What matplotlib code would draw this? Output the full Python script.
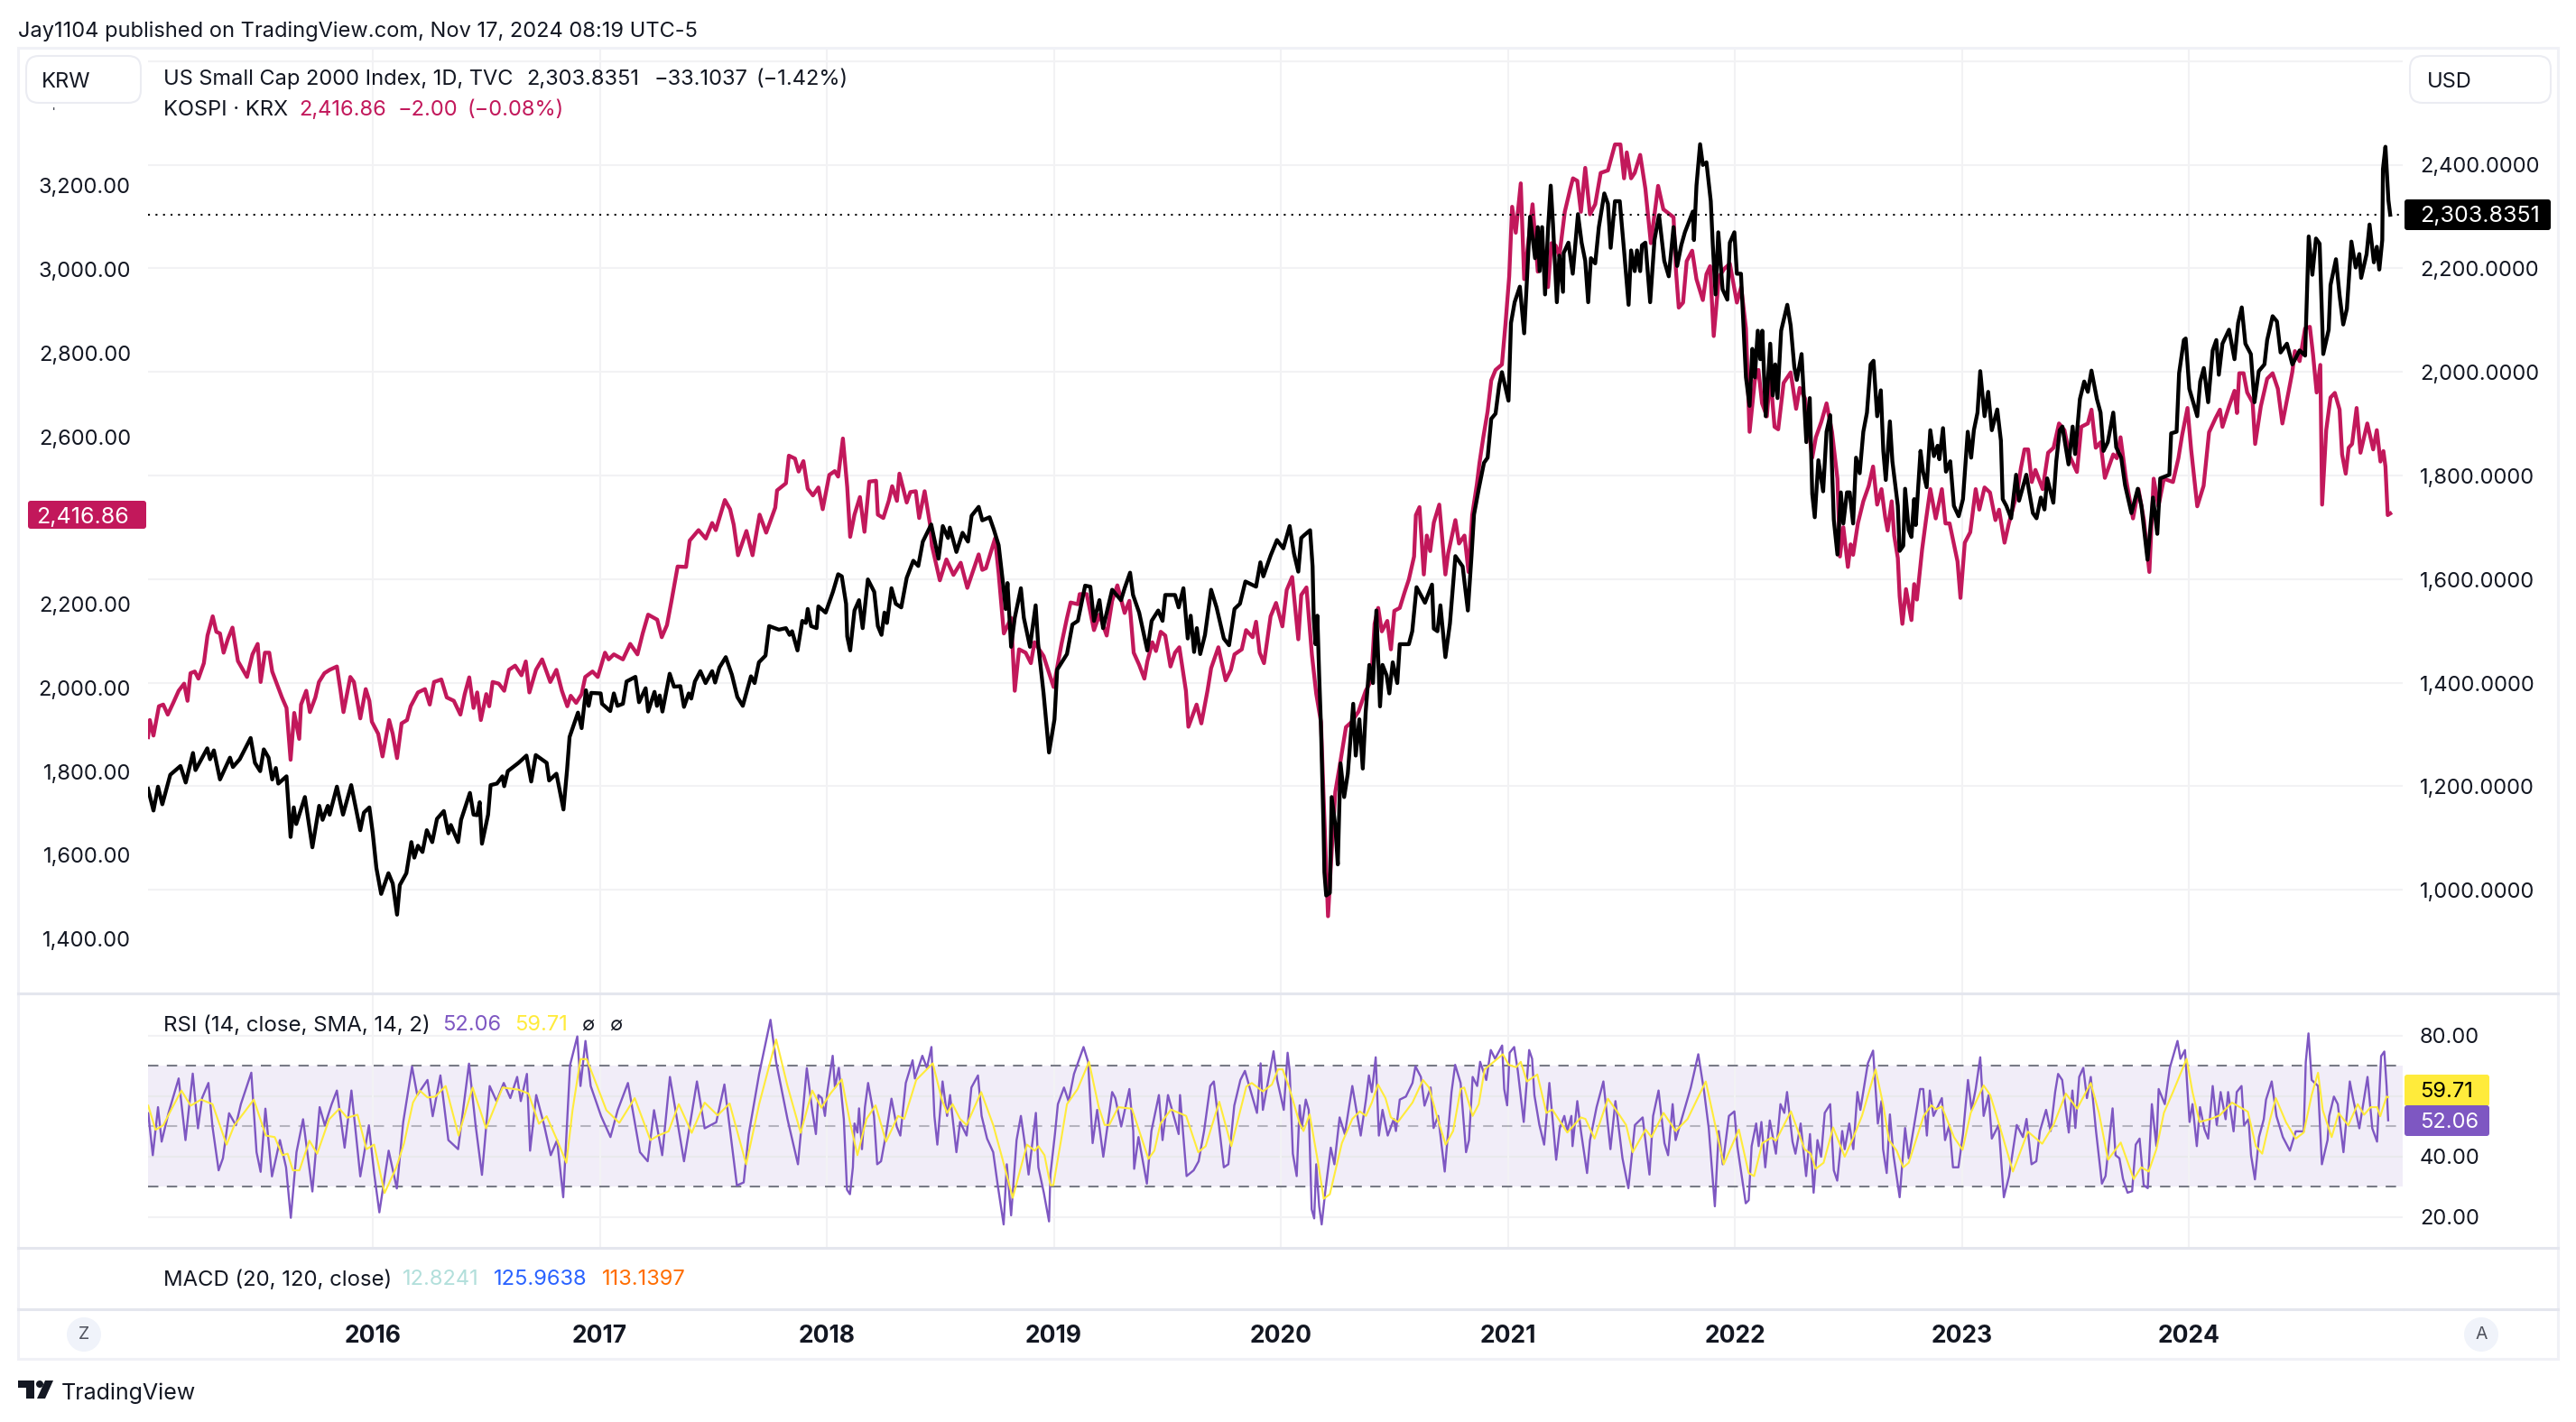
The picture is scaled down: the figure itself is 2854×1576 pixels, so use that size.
import numpy as np
import matplotlib
matplotlib.use('Agg')
import matplotlib.pyplot as plt
from matplotlib.patches import Rectangle, FancyBboxPatch, Circle, Polygon

# all times are years since 2015
rut_t = [
    .010, .034, .054, .073, .108, .153, .176, .208, .219, .271, .283, .300, .327, .371, .384, .414, .462, .481, .504, .520,
    .541, .557, .573, .584, .620, .638, .652, .663, .701, .734, .764, .779, .802, .810, .842, .869, .905, .945, .961, .985,
    1.000, 1.016, 1.037, 1.069, 1.088, 1.107, 1.119, 1.148, 1.170, 1.183, 1.199, 1.219, 1.238, 1.262, 1.283, 1.313, 1.333, 1.344, 1.376, 1.389,
    1.428, 1.444, 1.460, 1.471, 1.481, 1.508, 1.519, 1.547, 1.571, 1.579, 1.595, 1.642, 1.677, 1.698, 1.718, 1.766, 1.777, 1.809, 1.840, 1.856,
    1.867, 1.904, 1.920, 1.939, 1.951, 1.962, 2.004, 2.010, 2.046, 2.062, 2.078, 2.102, 2.118, 2.157, 2.173, 2.202, 2.213, 2.241, 2.252, 2.264,
    2.276, 2.308, 2.327, 2.355, 2.371, 2.392, 2.403, 2.419, 2.443, 2.466, 2.495, 2.508, 2.527, 2.555, 2.582, 2.606, 2.630, 2.666, 2.682, 2.701,
    2.730, 2.746, 2.789, 2.820, 2.836, 2.847, 2.871, 2.892, 2.908, 2.916, 2.931, 2.955, 2.963, 2.995, 3.027, 3.050, 3.066, 3.085, 3.090, 3.103,
    3.122, 3.142, 3.158, 3.181, 3.209, 3.225, 3.241, 3.254, 3.265, 3.285, 3.304, 3.328, 3.352, 3.381, 3.403, 3.423, 3.460, 3.492, 3.511, 3.534,
    3.542, 3.571, 3.598, 3.622, 3.638, 3.669, 3.685, 3.717, 3.736, 3.757, 3.777, 3.788, 3.796, 3.812, 3.828, 3.855, 3.868, 3.895, 3.920, 3.931,
    3.955, 3.979, 4.003, 4.015, 4.058, 4.082, 4.106, 4.138, 4.161, 4.177, 4.201, 4.217, 4.257, 4.296, 4.312, 4.336, 4.349, 4.376, 4.412, 4.431,
    4.460, 4.479, 4.491, 4.534, 4.550, 4.571, 4.590, 4.603, 4.618, 4.630, 4.645, 4.666, 4.693, 4.717, 4.749, 4.772, 4.796, 4.820, 4.844, 4.891,
    4.910, 4.923, 4.955, 4.983, 5.011, 5.039, 5.058, 5.077, 5.090, 5.102, 5.129, 5.140, 5.145, 5.153, 5.161, 5.169, 5.177, 5.188, 5.192, 5.200,
    5.216, 5.224, 5.240, 5.251, 5.263, 5.279, 5.295, 5.319, 5.330, 5.346, 5.361, 5.374, 5.390, 5.406, 5.421, 5.437, 5.448, 5.466, 5.478, 5.493,
    5.513, 5.524, 5.564, 5.579, 5.598, 5.635, 5.666, 5.674, 5.690, 5.703, 5.725, 5.745, 5.769, 5.801, 5.824, 5.840, 5.851, 5.872, 5.895, 5.911,
    5.927, 5.946, 5.962, 5.974, 6.003, 6.014, 6.030, 6.053, 6.072, 6.085, 6.098, 6.120, 6.132, 6.140, 6.151, 6.164, 6.177, 6.189, 6.199, 6.216,
    6.227, 6.243, 6.246, 6.267, 6.286, 6.309, 6.325, 6.341, 6.354, 6.366, 6.385, 6.401, 6.425, 6.441, 6.453, 6.472, 6.493, 6.512, 6.532, 6.543,
    6.559, 6.569, 6.583, 6.591, 6.606, 6.627, 6.646, 6.666, 6.689, 6.709, 6.730, 6.746, 6.764, 6.780, 6.815, 6.820, 6.831, 6.847, 6.859, 6.875,
    6.894, 6.903, 6.915, 6.927, 6.946, 6.967, 6.978, 6.998, 7.009, 7.027, 7.049, 7.065, 7.077, 7.088, 7.101, 7.112, 7.121, 7.136, 7.156, 7.167,
    7.178, 7.188, 7.204, 7.231, 7.246, 7.262, 7.273, 7.294, 7.315, 7.330, 7.341, 7.352, 7.368, 7.389, 7.404, 7.420, 7.436, 7.452, 7.467, 7.478,
    7.494, 7.506, 7.521, 7.534, 7.550, 7.566, 7.582, 7.598, 7.611, 7.627, 7.643, 7.654, 7.665, 7.683, 7.694, 7.718, 7.726, 7.742, 7.750, 7.766,
    7.778, 7.790, 7.797, 7.818, 7.829, 7.845, 7.861, 7.877, 7.893, 7.901, 7.917, 7.930, 7.949, 7.965, 7.986, 8.005, 8.026, 8.041, 8.053, 8.069,
    8.081, 8.100, 8.116, 8.132, 8.156, 8.172, 8.180, 8.196, 8.217, 8.239, 8.252, 8.284, 8.313, 8.329, 8.348, 8.364, 8.376, 8.403, 8.416, 8.431,
    8.443, 8.470, 8.488, 8.499, 8.520, 8.539, 8.555, 8.571, 8.595, 8.611, 8.624, 8.643, 8.667, 8.680, 8.702, 8.719, 8.747, 8.775, 8.791, 8.818,
    8.842, 8.861, 8.874, 8.914, 8.922, 8.946, 8.957, 8.978, 8.986, 9.002, 9.037, 9.050, 9.066, 9.085, 9.105, 9.121, 9.132, 9.148, 9.177, 9.201,
    9.217, 9.233, 9.249, 9.273, 9.289, 9.308, 9.333, 9.345, 9.369, 9.388, 9.404, 9.432, 9.456, 9.488, 9.512, 9.528, 9.544, 9.560, 9.576, 9.592,
    9.616, 9.624, 9.648, 9.664, 9.680, 9.696, 9.707, 9.716, 9.735, 9.751, 9.759, 9.783, 9.796, 9.815, 9.828, 9.839, 9.852, 9.855, 9.866, 9.879,
    9.887,
]
rut_v = [
    1196, 1154, 1200, 1166, 1223, 1240, 1208, 1265, 1232, 1274, 1253, 1270, 1214, 1256, 1238, 1253, 1294, 1246, 1230, 1272,
    1256, 1214, 1236, 1206, 1220, 1103, 1160, 1128, 1180, 1083, 1163, 1136, 1163, 1146, 1200, 1146, 1203, 1116, 1150, 1160,
    1110, 1043, 993, 1033, 1013, 953, 1010, 1033, 1093, 1063, 1086, 1074, 1116, 1093, 1138, 1153, 1110, 1126, 1093, 1136,
    1188, 1146, 1145, 1170, 1090, 1146, 1203, 1206, 1220, 1201, 1230, 1246, 1260, 1210, 1261, 1246, 1212, 1225, 1156, 1233,
    1296, 1343, 1313, 1386, 1356, 1381, 1380, 1360, 1346, 1380, 1356, 1360, 1403, 1412, 1363, 1390, 1345, 1383, 1356, 1376,
    1345, 1418, 1393, 1394, 1354, 1380, 1370, 1403, 1423, 1400, 1423, 1401, 1430, 1450, 1416, 1373, 1356, 1413, 1400, 1440,
    1453, 1510, 1503, 1506, 1493, 1500, 1463, 1520, 1516, 1543, 1510, 1506, 1548, 1536, 1576, 1610, 1606, 1553, 1490, 1463,
    1540, 1560, 1506, 1600, 1576, 1510, 1493, 1536, 1516, 1583, 1553, 1546, 1603, 1636, 1626, 1673, 1706, 1640, 1703, 1680,
    1700, 1653, 1690, 1673, 1723, 1740, 1714, 1720, 1696, 1666, 1590, 1543, 1593, 1470, 1526, 1583, 1526, 1470, 1550, 1476,
    1380, 1266, 1330, 1426, 1456, 1513, 1520, 1588, 1586, 1520, 1560, 1506, 1580, 1560, 1583, 1613, 1570, 1536, 1463, 1520,
    1540, 1520, 1570, 1570, 1546, 1583, 1486, 1530, 1460, 1506, 1456, 1493, 1580, 1546, 1486, 1473, 1543, 1553, 1596, 1586,
    1633, 1606, 1646, 1676, 1660, 1703, 1650, 1615, 1680, 1685, 1695, 1625, 1525, 1475, 1530, 1415, 1315, 1125, 1035, 990,
    995, 1180, 1125, 1050, 1245, 1180, 1225, 1360, 1260, 1330, 1235, 1345, 1435, 1400, 1540, 1355, 1435, 1415, 1380, 1440,
    1400, 1475, 1475, 1500, 1585, 1555, 1590, 1505, 1500, 1550, 1450, 1515, 1645, 1625, 1540, 1645, 1725, 1775, 1825, 1835,
    1910, 1920, 1975, 2000, 1945, 2095, 2135, 2165, 2075, 2185, 2300, 2220, 2280, 2195, 2280, 2150, 2275, 2360, 2285, 2135,
    2225, 2155, 2230, 2250, 2190, 2305, 2250, 2215, 2135, 2220, 2210, 2280, 2345, 2325, 2240, 2330, 2330, 2235, 2130, 2235,
    2195, 2235, 2195, 2245, 2250, 2135, 2255, 2303, 2215, 2185, 2280, 2205, 2245, 2270, 2310, 2255, 2360, 2440, 2400, 2405,
    2330, 2245, 2150, 2270, 2160, 2140, 2250, 2270, 2190, 2190, 1990, 1935, 2045, 1990, 2080, 2025, 2080, 1915, 2055, 1955,
    2015, 1950, 2080, 2130, 2090, 2010, 1985, 2035, 1865, 1950, 1765, 1720, 1830, 1770, 1885, 1917, 1715, 1648, 1768, 1708,
    1768, 1768, 1708, 1835, 1805, 1885, 1922, 2015, 2022, 1915, 1965, 1848, 1792, 1905, 1828, 1742, 1655, 1665, 1775, 1695,
    1682, 1755, 1705, 1848, 1808, 1778, 1888, 1838, 1858, 1832, 1892, 1808, 1828, 1742, 1722, 1755, 1885, 1835, 1888, 1922,
    2002, 1915, 1962, 1888, 1928, 1868, 1755, 1742, 1718, 1802, 1752, 1802, 1728, 1718, 1758, 1735, 1795, 1748, 1828, 1888,
    1895, 1822, 1895, 1842, 1948, 1982, 1962, 2003, 1948, 1922, 1848, 1865, 1922, 1855, 1835, 1782, 1728, 1775, 1742, 1638,
    1758, 1688, 1795, 1802, 1882, 1885, 1998, 2062, 2065, 1968, 1915, 1982, 2008, 1942, 2042, 2062, 1995, 2055, 2082, 2025,
    2095, 2125, 2055, 2035, 1942, 2002, 2015, 2062, 2108, 2098, 2038, 2055, 2015, 2042, 2032, 2262, 2188, 2258, 2248, 2035,
    2082, 2168, 2218, 2148, 2092, 2122, 2195, 2252, 2202, 2228, 2182, 2228, 2285, 2212, 2242, 2198, 2255, 2392, 2435, 2332,
    2303.8351,
]

kospi_t = [
    .010, .018, .034, .058, .077, .097, .121, .145, .169, .184, .197, .216, .232, .256, .272, .295, .311, .327, .343, .362,
    .382, .406, .446, .470, .493, .506, .525, .544, .557, .577, .600, .620, .638, .654, .676, .684, .707, .723, .747, .763,
    .787, .810, .842, .858, .871, .901, .917, .945, .969, .985, .996, 1.024, 1.043, 1.072, 1.088, 1.107, 1.127, 1.151, 1.167, 1.199,
    1.230, 1.251, 1.270, 1.302, 1.326, 1.357, 1.386, 1.405, 1.425, 1.444, 1.460, 1.476, 1.500, 1.513, 1.528, 1.555, 1.579, 1.600, 1.627, 1.655,
    1.674, 1.690, 1.719, 1.746, 1.782, 1.809, 1.833, 1.857, 1.872, 1.896, 1.920, 1.936, 1.968, 1.991, 2.023, 2.039, 2.062, 2.102, 2.134, 2.166,
    2.189, 2.213, 2.253, 2.273, 2.296, 2.316, 2.343, 2.380, 2.396, 2.435, 2.467, 2.495, 2.511, 2.551, 2.574, 2.590, 2.609, 2.646, 2.673, 2.704,
    2.733, 2.773, 2.781, 2.820, 2.833, 2.860, 2.876, 2.897, 2.916, 2.939, 2.963, 2.982, 3.011, 3.035, 3.050, 3.071, 3.090, 3.103, 3.122, 3.146,
    3.166, 3.187, 3.217, 3.225, 3.249, 3.273, 3.288, 3.309, 3.320, 3.352, 3.368, 3.392, 3.407, 3.431, 3.455, 3.463, 3.498, 3.527, 3.558, 3.590,
    3.619, 3.669, 3.685, 3.701, 3.741, 3.757, 3.780, 3.812, 3.828, 3.847, 3.876, 3.899, 3.915, 3.955, 3.999, 4.034, 4.058, 4.074, 4.106, 4.114,
    4.145, 4.177, 4.201, 4.233, 4.257, 4.280, 4.312, 4.333, 4.352, 4.376, 4.399, 4.412, 4.434, 4.450, 4.471, 4.491, 4.514, 4.534, 4.553, 4.582,
    4.593, 4.629, 4.650, 4.677, 4.693, 4.725, 4.757, 4.780, 4.796, 4.828, 4.847, 4.876, 4.891, 4.907, 4.926, 4.955, 4.979, 5.007, 5.026, 5.050,
    5.077, 5.090, 5.113, 5.137, 5.156, 5.177, 5.188, 5.208, 5.224, 5.240, 5.263, 5.287, 5.311, 5.342, 5.374, 5.398, 5.413, 5.429, 5.445, 5.469,
    5.485, 5.500, 5.524, 5.545, 5.564, 5.587, 5.595, 5.611, 5.630, 5.643, 5.658, 5.674, 5.698, 5.725, 5.737, 5.769, 5.785, 5.809, 5.827, 5.843,
    5.864, 5.875, 5.892, 5.911, 5.927, 5.946, 5.974, 5.990, 6.006, 6.019, 6.035, 6.057, 6.072, 6.109, 6.132, 6.156, 6.177, 6.192, 6.211, 6.227,
    6.251, 6.275, 6.287, 6.306, 6.322, 6.341, 6.362, 6.385, 6.409, 6.441, 6.472, 6.496, 6.512, 6.524, 6.543, 6.559, 6.583, 6.606, 6.630, 6.662,
    6.685, 6.730, 6.741, 6.753, 6.772, 6.788, 6.812, 6.831, 6.859, 6.875, 6.891, 6.907, 6.930, 6.954, 6.978, 7.009, 7.028, 7.049, 7.065, 7.088,
    7.104, 7.120, 7.141, 7.156, 7.175, 7.191, 7.215, 7.246, 7.270, 7.286, 7.309, 7.341, 7.357, 7.381, 7.404, 7.428, 7.452, 7.463, 7.478, 7.498,
    7.510, 7.521, 7.542, 7.566, 7.590, 7.609, 7.627, 7.646, 7.662, 7.673, 7.691, 7.702, 7.718, 7.726, 7.738, 7.754, 7.778, 7.790, 7.802, 7.825,
    7.842, 7.861, 7.885, 7.912, 7.928, 7.946, 7.965, 7.981, 7.994, 8.013, 8.037, 8.061, 8.077, 8.100, 8.124, 8.148, 8.164, 8.188, 8.207, 8.244,
    8.260, 8.276, 8.292, 8.308, 8.324, 8.356, 8.380, 8.404, 8.428, 8.452, 8.475, 8.507, 8.526, 8.555, 8.571, 8.590, 8.611, 8.630, 8.667, 8.683,
    8.699, 8.723, 8.754, 8.778, 8.802, 8.826, 8.845, 8.866, 8.890, 8.930, 8.954, 8.970, 8.994, 9.010, 9.037, 9.065, 9.089, 9.117, 9.137, 9.148,
    9.177, 9.201, 9.212, 9.222, 9.241, 9.257, 9.281, 9.292, 9.317, 9.345, 9.369, 9.392, 9.412, 9.440, 9.456, 9.467, 9.488, 9.512, 9.533, 9.547,
    9.563, 9.579, 9.587, 9.605, 9.624, 9.643, 9.664, 9.675, 9.691, 9.704, 9.719, 9.739, 9.756, 9.786, 9.812, 9.828, 9.844, 9.857, 9.866, 9.876,
    9.887,
]
kospi_v = [
    1882, 1923, 1886, 1956, 1960, 1936, 1964, 1993, 2010, 1969, 2035, 2039, 2022, 2059, 2125, 2171, 2134, 2130, 2084, 2117,
    2144, 2064, 2026, 2080, 2105, 2014, 2084, 2084, 2039, 2010, 1977, 1952, 1828, 1940, 1878, 1960, 1993, 1942, 1977, 2014,
    2035, 2043, 2051, 1993, 1942, 2026, 2014, 1927, 1997, 1969, 1919, 1890, 1836, 1923, 1890, 1832, 1915, 1923, 1956, 1989,
    1997, 1960, 2014, 2020, 1977, 1969, 1936, 1985, 2025, 1952, 1989, 1923, 1985, 1956, 2014, 2010, 1993, 2043, 2053, 2030,
    2063, 1989, 2043, 2068, 2014, 2043, 1993, 1956, 1981, 1964, 1985, 2026, 2039, 2026, 2084, 2068, 2080, 2068, 2105, 2080,
    2130, 2175, 2163, 2121, 2150, 2208, 2290, 2289, 2352, 2377, 2357, 2394, 2377, 2449, 2427, 2390, 2317, 2375, 2317, 2414,
    2371, 2431, 2472, 2489, 2555, 2548, 2517, 2542, 2476, 2460, 2479, 2427, 2509, 2518, 2505, 2596, 2480, 2361, 2414, 2456,
    2373, 2493, 2495, 2414, 2406, 2447, 2482, 2447, 2512, 2443, 2468, 2470, 2406, 2470, 2390, 2340, 2257, 2307, 2270, 2299,
    2239, 2319, 2282, 2286, 2357, 2274, 2130, 2167, 1993, 2092, 2084, 2059, 2109, 2076, 2002, 2105, 2167, 2204, 2200, 2224,
    2224, 2138, 2175, 2125, 2208, 2245, 2179, 2208, 2084, 2055, 2022, 2063, 2109, 2088, 2134, 2125, 2051, 2084, 2097, 1993,
    1907, 1960, 1915, 1993, 2047, 2097, 2018, 2043, 2080, 2092, 2138, 2121, 2158, 2084, 2059, 2171, 2203, 2147, 2234, 2265,
    2116, 2222, 2240, 2079, 1986, 1918, 1745, 1454, 1609, 1751, 1825, 1906, 1918, 1943, 1993, 2017, 2153, 2191, 2135, 2160,
    2092, 2184, 2191, 2228, 2259, 2314, 2413, 2432, 2271, 2364, 2327, 2395, 2438, 2271, 2321, 2401, 2345, 2364, 2277, 2413,
    2488, 2537, 2599, 2661, 2735, 2760, 2773, 2872, 2983, 3150, 3088, 3206, 2977, 3156, 2995, 3032, 2958, 3063, 3057, 3032,
    3138, 3193, 3218, 3212, 3138, 3243, 3132, 3156, 3231, 3237, 3299, 3299, 3218, 3280, 3218, 3231, 3274, 3193, 3063, 3200,
    3144, 3125, 2995, 2909, 2921, 3020, 3045, 2977, 2927, 2989, 3008, 2841, 2983, 3002, 3014, 2921, 2958, 2859, 2612, 2735,
    2760, 2680, 2649, 2748, 2624, 2618, 2729, 2754, 2667, 2717, 2692, 2550, 2599, 2636, 2680, 2612, 2500, 2314, 2384, 2289,
    2343, 2318, 2393, 2446, 2483, 2529, 2438, 2475, 2409, 2376, 2446, 2364, 2310, 2219, 2153, 2236, 2162, 2248, 2211, 2331,
    2401, 2475, 2405, 2475, 2393, 2393, 2343, 2302, 2215, 2347, 2372, 2475, 2426, 2479, 2467, 2401, 2426, 2347, 2393, 2467,
    2525, 2570, 2570, 2492, 2521, 2475, 2562, 2574, 2632, 2616, 2554, 2516, 2624, 2632, 2665, 2574, 2587, 2502, 2558, 2549,
    2599, 2500, 2405, 2475, 2401, 2277, 2500, 2434, 2500, 2492, 2549, 2603, 2669, 2570, 2434, 2483, 2611, 2644, 2665, 2624,
    2673, 2710, 2657, 2752, 2752, 2706, 2682, 2583, 2673, 2739, 2752, 2715, 2632, 2710, 2756, 2805, 2781, 2859, 2863, 2797,
    2706, 2772, 2438, 2616, 2694, 2705, 2665, 2558, 2512, 2574, 2583, 2669, 2562, 2632, 2570, 2616, 2541, 2566, 2529, 2413,
    2416.86,
]

rsi_t = [
    .011, .031, .054, .070, .100, .145, .175, .207, .230, .248, .276, .294, .321, .340, .367, .397, .419, .465, .488, .506,
    .527, .556, .591, .618, .639, .664, .693, .734, .766, .789, .819, .842, .876, .906, .945, .983, 1.006, 1.029, 1.070, 1.106,
    1.134, 1.173, 1.196, 1.241, 1.264, 1.298, 1.333, 1.376, 1.396, 1.424, 1.453, 1.481, 1.515, 1.545, 1.577, 1.606, 1.636, 1.652, 1.679, 1.693,
    1.720, 1.755, 1.784, 1.812, 1.839, 1.869, 1.901, 1.915, 1.937, 1.960, 2.006, 2.047, 2.079, 2.124, 2.177, 2.211, 2.239, 2.275, 2.309, 2.371,
    2.428, 2.462, 2.513, 2.549, 2.604, 2.634, 2.656, 2.702, 2.752, 2.777, 2.827, 2.873, 2.912, 2.936, 2.952, 2.963, 2.978, 2.992, 3.002, 3.026,
    3.036, 3.053, 3.075, 3.089, 3.102, 3.115, 3.122, 3.135, 3.142, 3.155, 3.168, 3.182, 3.208, 3.222, 3.239, 3.261, 3.285, 3.308, 3.324, 3.348,
    3.378, 3.388, 3.421, 3.441, 3.461, 3.474, 3.487, 3.510, 3.530, 3.543, 3.571, 3.587, 3.616, 3.637, 3.666, 3.682, 3.706, 3.733, 3.753, 3.779,
    3.793, 3.812, 3.836, 3.855, 3.872, 3.889, 3.921, 3.932, 3.956, 3.979, 3.985, 4.005, 4.018, 4.045, 4.065, 4.089, 4.131, 4.151, 4.171, 4.191,
    4.218, 4.257, 4.271, 4.297, 4.333, 4.350, 4.354, 4.373, 4.410, 4.430, 4.463, 4.479, 4.503, 4.550, 4.556, 4.585, 4.616, 4.638, 4.662, 4.689,
    4.705, 4.749, 4.769, 4.795, 4.822, 4.842, 4.859, 4.895, 4.911, 4.921, 4.968, 4.984, 5.013, 5.030, 5.039, 5.053, 5.070, 5.083, 5.092, 5.110,
    5.123, 5.136, 5.147, 5.156, 5.169, 5.180, 5.196, 5.220, 5.236, 5.259, 5.282, 5.315, 5.352, 5.375, 5.388, 5.401, 5.418, 5.432, 5.448, 5.471,
    5.498, 5.507, 5.524, 5.551, 5.580, 5.593, 5.617, 5.633, 5.660, 5.673, 5.693, 5.722, 5.752, 5.768, 5.792, 5.816, 5.829, 5.845, 5.865, 5.878,
    5.905, 5.925, 5.944, 5.975, 5.984, 5.997, 6.008, 6.028, 6.044, 6.070, 6.094, 6.107, 6.117, 6.139, 6.160, 6.183, 6.213, 6.229, 6.249, 6.262,
    6.280, 6.285, 6.306, 6.322, 6.349, 6.362, 6.391, 6.421, 6.452, 6.474, 6.505, 6.531, 6.560, 6.594, 6.624, 6.640, 6.664, 6.690, 6.706, 6.726,
    6.739, 6.766, 6.806, 6.839, 6.865, 6.885, 6.902, 6.912, 6.929, 6.947, 6.974, 6.998, 7.011, 7.048, 7.061, 7.074, 7.094, 7.105, 7.117, 7.134,
    7.154, 7.181, 7.201, 7.218, 7.230, 7.254, 7.267, 7.290, 7.314, 7.331, 7.347, 7.364, 7.380, 7.396, 7.420, 7.436, 7.451, 7.473, 7.484, 7.504,
    7.522, 7.540, 7.553, 7.586, 7.609, 7.630, 7.646, 7.653, 7.669, 7.683, 7.699, 7.726, 7.750, 7.766, 7.790, 7.816, 7.830, 7.846, 7.859, 7.875,
    7.912, 7.926, 7.945, 7.961, 7.985, 8.005, 8.027, 8.043, 8.061, 8.081, 8.096, 8.118, 8.132, 8.162, 8.185, 8.208, 8.242, 8.269, 8.285, 8.307,
    8.328, 8.344, 8.371, 8.391, 8.411, 8.424, 8.442, 8.471, 8.487, 8.500, 8.517, 8.535, 8.551, 8.568, 8.591, 8.617, 8.633, 8.664, 8.677, 8.694,
    8.710, 8.730, 8.750, 8.766, 8.783, 8.801, 8.819, 8.837, 8.857, 8.867, 8.894, 8.916, 8.950, 8.963, 8.983, 9.003, 9.016, 9.035, 9.049, 9.069,
    9.085, 9.105, 9.123, 9.140, 9.162, 9.173, 9.197, 9.211, 9.232, 9.243, 9.263, 9.274, 9.291, 9.309, 9.330, 9.340, 9.365, 9.386, 9.414, 9.445,
    9.471, 9.506, 9.515, 9.527, 9.541, 9.569, 9.586, 9.611, 9.618, 9.639, 9.656, 9.681, 9.709, 9.723, 9.751, 9.787, 9.808, 9.829, 9.847, 9.861,
    9.871, 9.878,
]
rsi_v = [
    54.4, 40.5, 56.4, 45.0, 54.4, 65.9, 45.5, 67.5, 49.4, 59.4, 64.4, 49.9, 35.5, 39.5, 54.4, 50.4, 57.4, 67.8, 41.5, 35.0,
    55.9, 33.5, 45.5, 36.5, 19.8, 41.5, 52.4, 28.5, 56.4, 50.4, 57.4, 61.9, 43.0, 61.9, 33.5, 50.4, 34.5, 21.6, 42.0, 29.5,
    51.4, 69.8, 60.4, 65.4, 53.4, 66.9, 45.5, 42.5, 54.4, 70.8, 50.4, 34.0, 63.4, 58.4, 64.4, 59.4, 66.4, 58.4, 67.4, 42.0,
    60.4, 50.4, 40.5, 45.5, 26.6, 70.3, 79.8, 63.4, 78.3, 63.4, 53.4, 46.5, 55.4, 64.4, 41.5, 38.5, 55.4, 40.5, 66.4, 38.5,
    64.9, 49.4, 51.4, 63.9, 30.5, 31.5, 47.4, 67.4, 85.3, 71.3, 52.4, 37.5, 69.3, 55.4, 47.5, 60.4, 59.4, 53.5, 61.4, 73.4,
    62.9, 69.4, 52.5, 29.1, 27.6, 36.5, 51.0, 48.0, 56.0, 42.5, 56.4, 64.4, 53.5, 37.5, 38.5, 47.5, 59.2, 50.0, 47.0, 64.4,
    71.9, 65.9, 73.4, 69.4, 76.3, 53.5, 44.0, 64.9, 53.5, 60.4, 41.5, 51.5, 47.0, 62.9, 66.9, 53.5, 46.0, 41.5, 30.6, 17.6,
    37.5, 20.6, 45.5, 53.5, 44.5, 34.1, 54.5, 36.5, 28.1, 18.6, 34.1, 47.5, 57.4, 62.9, 58.4, 67.4, 76.3, 71.4, 44.5, 55.5,
    40.0, 61.4, 59.4, 50.0, 62.4, 48.5, 36.0, 46.5, 31.1, 48.5, 60.4, 45.5, 60.4, 47.5, 60.4, 33.6, 35.5, 38.5, 48.5, 63.4,
    64.9, 36.5, 37.5, 56.9, 65.4, 68.4, 63.9, 54.5, 70.9, 55.5, 74.9, 65.4, 55.5, 74.4, 68.4, 41.0, 33.6, 57.0, 49.5, 58.9,
    55.5, 22.6, 19.6, 37.5, 23.6, 17.6, 28.6, 43.0, 37.5, 53.0, 47.5, 63.4, 47.0, 58.9, 66.9, 61.4, 72.9, 47.0, 55.5, 47.0,
    52.5, 48.5, 58.9, 59.9, 64.4, 69.9, 66.4, 56.9, 62.9, 49.5, 53.5, 35.1, 61.4, 70.4, 64.4, 41.5, 45.5, 66.4, 63.4, 71.4,
    65.4, 75.3, 72.4, 76.8, 62.4, 57.0, 74.4, 76.3, 68.4, 51.5, 75.3, 72.4, 60.4, 50.5, 44.0, 64.4, 39.0, 49.5, 53.5, 48.5,
    53.5, 43.5, 58.4, 48.5, 34.6, 45.5, 56.4, 64.9, 42.5, 58.4, 39.5, 29.6, 50.5, 53.0, 34.1, 53.5, 61.9, 44.5, 40.5, 57.4,
    45.5, 52.5, 62.9, 73.9, 61.4, 49.5, 33.1, 23.6, 48.5, 37.5, 53.5, 55.0, 43.5, 24.6, 25.6, 43.5, 51.0, 43.5, 51.5, 36.5,
    52.0, 41.0, 57.4, 54.5, 61.4, 45.0, 41.0, 51.0, 33.6, 47.5, 28.1, 45.5, 40.0, 54.5, 57.4, 35.5, 32.1, 48.5, 42.5, 51.0,
    42.5, 61.4, 55.5, 70.9, 75.1, 51.0, 58.4, 42.5, 34.6, 54.0, 40.5, 26.6, 49.5, 39.5, 50.5, 62.4, 62.4, 47.0, 61.9, 53.5,
    59.4, 45.5, 50.5, 36.5, 36.5, 47.5, 65.4, 55.5, 62.4, 72.9, 53.5, 60.4, 46.0, 50.5, 26.6, 33.6, 50.5, 46.5, 52.5, 37.5,
    38.5, 48.5, 55.5, 48.5, 61.4, 67.4, 65.4, 48.0, 61.9, 49.5, 66.4, 69.4, 59.4, 66.4, 48.5, 31.1, 33.6, 56.0, 40.5, 39.5,
    32.6, 28.1, 28.6, 44.0, 46.0, 30.6, 29.6, 57.4, 43.5, 62.4, 57.4, 69.4, 78.3, 72.4, 75.3, 51.5, 57.4, 43.5, 56.4, 49.0,
    46.0, 63.4, 50.5, 61.4, 52.4, 61.4, 48.4, 61.4, 63.4, 50.4, 52.4, 40.5, 32.5, 46.5, 52.4, 58.9, 64.9, 53.4, 46.5, 42.0,
    48.4, 48.4, 71.3, 80.8, 65.4, 63.4, 37.5, 45.5, 53.4, 59.9, 57.4, 41.5, 64.9, 59.4, 49.4, 66.4, 49.4, 45.0, 73.3, 74.8,
    63.4, 52.06,
]

signal_t = [
    .011, .043, .077, .111, .157, .198, .244, .294, .317, .356, .390, .431, .476, .529, .568, .602, .625, .648, .677, .721,
    .755, .808, .853, .887, .933, .972, 1.006, 1.052, 1.104, 1.138, 1.177, 1.207, 1.241, 1.276, 1.321, 1.378, 1.440, 1.499, 1.572, 1.641,
    1.686, 1.732, 1.766, 1.812, 1.853, 1.880, 1.915, 1.942, 1.983, 2.029, 2.086, 2.154, 2.223, 2.257, 2.303, 2.348, 2.405, 2.462, 2.519, 2.572,
    2.645, 2.702, 2.777, 2.827, 2.885, 2.936, 2.976, 3.016, 3.066, 3.102, 3.135, 3.175, 3.215, 3.261, 3.314, 3.341, 3.394, 3.467, 3.507, 3.530,
    3.554, 3.587, 3.616, 3.680, 3.733, 3.773, 3.819, 3.882, 3.916, 3.932, 3.959, 3.985, 3.998, 4.032, 4.058, 4.105, 4.155, 4.198, 4.224, 4.244,
    4.284, 4.344, 4.417, 4.443, 4.470, 4.516, 4.583, 4.636, 4.669, 4.729, 4.782, 4.848, 4.872, 4.921, 4.961, 4.988, 5.008, 5.037, 5.083, 5.100,
    5.127, 5.163, 5.189, 5.216, 5.269, 5.315, 5.348, 5.375, 5.401, 5.428, 5.461, 5.485, 5.516, 5.580, 5.626, 5.653, 5.693, 5.726, 5.759, 5.792,
    5.808, 5.845, 5.872, 5.898, 5.978, 6.004, 6.037, 6.057, 6.084, 6.130, 6.170, 6.196, 6.262, 6.322, 6.342, 6.382, 6.441, 6.481, 6.521, 6.550,
    6.607, 6.633, 6.686, 6.739, 6.792, 6.872, 6.905, 6.951, 7.018, 7.061, 7.085, 7.121, 7.161, 7.181, 7.247, 7.307, 7.334, 7.356, 7.391, 7.433,
    7.484, 7.520, 7.560, 7.620, 7.653, 7.679, 7.713, 7.742, 7.766, 7.832, 7.866, 7.886, 7.912, 7.965, 8.003, 8.039, 8.096, 8.125, 8.165, 8.225,
    8.291, 8.354, 8.404, 8.458, 8.508, 8.568, 8.604, 8.644, 8.700, 8.757, 8.790, 8.823, 8.857, 8.890, 8.930, 8.990, 9.016, 9.047, 9.096, 9.136,
    9.190, 9.260, 9.295, 9.323, 9.358, 9.383, 9.428, 9.471, 9.506, 9.541, 9.569, 9.590, 9.629, 9.660, 9.702, 9.744, 9.772, 9.801, 9.829, 9.843,
    9.871, 9.878,
]
signal_v = [
    56.9, 48.9, 50.4, 55.4, 61.9, 56.9, 58.9, 57.4, 52.4, 44.0, 50.4, 54.4, 58.9, 47.0, 46.5, 40.5, 41.0, 35.5, 35.5, 45.3,
    41.0, 52.4, 55.9, 52.9, 53.9, 42.5, 44.0, 28.0, 36.5, 44.5, 57.9, 61.9, 59.6, 59.9, 63.4, 47.0, 62.9, 49.4, 62.9, 62.2,
    60.9, 50.9, 53.4, 45.5, 38.0, 55.4, 72.3, 72.3, 64.4, 55.4, 51.2, 59.4, 45.5, 47.0, 48.4, 57.4, 47.9, 57.9, 53.7, 57.6,
    37.5, 57.4, 78.8, 63.4, 47.9, 61.9, 56.2, 60.9, 65.6, 51.5, 40.5, 52.5, 57.0, 45.0, 53.5, 52.5, 65.4, 70.9, 58.9, 54.5,
    57.4, 52.5, 50.5, 61.4, 50.5, 39.5, 26.4, 44.0, 42.0, 43.5, 40.5, 30.6, 30.6, 45.5, 57.4, 62.4, 71.4, 56.4, 50.5, 50.5,
    56.4, 55.9, 39.3, 42.0, 51.0, 55.6, 53.5, 41.5, 43.5, 58.2, 43.5, 63.2, 64.4, 61.6, 63.9, 68.9, 68.9, 62.9, 51.0, 48.5,
    54.0, 38.5, 26.1, 27.6, 44.5, 52.5, 55.0, 53.5, 57.9, 63.9, 59.4, 53.0, 51.5, 57.9, 65.4, 62.9, 52.0, 44.0, 48.5, 62.4,
    62.9, 53.5, 57.4, 68.9, 73.9, 70.4, 69.6, 71.4, 64.9, 67.2, 54.5, 55.6, 48.0, 53.0, 52.5, 46.0, 59.2, 55.0, 50.5, 41.5,
    49.0, 46.5, 54.5, 48.5, 52.5, 64.9, 53.5, 37.5, 49.0, 34.6, 33.6, 44.5, 46.3, 45.3, 55.0, 42.5, 41.0, 36.0, 38.0, 49.7,
    40.0, 46.0, 53.5, 68.9, 57.4, 45.5, 42.0, 36.5, 38.0, 53.5, 57.0, 55.7, 56.6, 46.5, 42.3, 54.5, 63.6, 60.4, 50.5, 35.1,
    48.3, 44.3, 50.5, 60.9, 55.9, 64.4, 54.5, 39.0, 44.7, 32.6, 36.5, 35.1, 42.5, 54.5, 61.4, 72.4, 61.4, 51.5, 52.5, 53.7,
    57.9, 54.9, 43.5, 41.0, 52.4, 59.4, 51.4, 46.0, 48.0, 60.4, 67.8, 55.4, 46.5, 54.4, 50.4, 57.4, 53.9, 56.4, 56.4, 53.4,
    59.9, 59.71,
]

krw_ticks = [1400, 1600, 1800, 2000, 2200, 2600, 2800, 3000, 3200]
usd_ticks = [1000, 1200, 1400, 1600, 1800, 2000, 2200, 2400]
usd_grid = [800, 1000, 1200, 1400, 1600, 1800, 2000, 2200, 2400, 2600]
rsi_grid = [20, 40, 60, 80]
rsi_ticks = [20, 40, 80]  # 60 sits behind the value tags
year_labels = [2016, 2017, 2018, 2019, 2020, 2021, 2022, 2023, 2024]

INK = '#131722'
GRID = '#F2F2F4'
EDGE = '#E4E6EE'
PINK = '#C2185B'
PURPLE = '#7E57C2'
YELLOW = '#FFEB3B'
W, H = 2854, 1576
XMIN, XMAX = 0.010, 9.942

plt.rcParams['font.family'] = ['Inter', 'DejaVu Sans']
plt.rcParams['font.size'] = 17

fig = plt.figure(figsize=(W / 100, H / 100), dpi=100, facecolor='white')


def pane(top, bottom, zorder=1):
    ax = fig.add_axes([164 / W, 1 - bottom / H, (2662 - 164) / W, (bottom - top) / H], zorder=zorder)
    ax.set_xlim(XMIN, XMAX)
    ax.patch.set_visible(False)
    for s in ax.spines.values():
        s.set_visible(False)
    ax.tick_params(length=0, labelcolor=INK, pad=13.7, labelsize=17)
    ax.set_xticks([])
    return ax


# main pane: grid underneath, then kospi (left scale), then russell (right scale)
ax_grid = pane(53, 1101, zorder=1)
ax_grid.set_ylim(801, 2626)
ax_grid.set_xticks(range(1, 10))
ax_grid.set_yticks(usd_grid)
ax_grid.grid(color=GRID, lw=1.5)
ax_grid.tick_params(labelbottom=False, labelleft=False)

ax_krw = pane(53, 1101, zorder=2)
ax_krw.set_ylim(1269.5, 3530)
ax_krw.plot(kospi_t, kospi_v, color=PINK, lw=3.1, solid_joinstyle='round')
ax_krw.set_yticks(krw_ticks)
ax_krw.set_yticklabels([f'{v:,.2f}' for v in krw_ticks])

ax_usd = pane(53, 1101, zorder=3)
ax_usd.set_ylim(801, 2626)
ax_usd.plot(rut_t, rut_v, color='black', lw=3.1, solid_joinstyle='round')
ax_usd.axhline(rut_v[-1], color='black', lw=1.5, ls=(0, (1, 3)))
ax_usd.yaxis.tick_right()
ax_usd.set_yticks(usd_ticks)
ax_usd.set_yticklabels([f'{v:,.4f}' for v in usd_ticks])

# rsi pane
ax_rsi = pane(1101, 1383)
ax_rsi.set_ylim(9.85, 94.03)
ax_rsi.set_xticks(range(1, 10))
ax_rsi.tick_params(labelbottom=False)
ax_rsi.grid(axis='x', color=GRID, lw=1.5)
ax_rsi.axhspan(30, 70, color=PURPLE, alpha=0.1, lw=0, zorder=0)
for v in rsi_grid:
    ax_rsi.axhline(v, color='#E9E9EC' if v in (40, 60) else GRID, lw=1.5, zorder=0.5)
ax_rsi.axhline(70, color='#787B86', lw=1.5, ls=(0, (5.5, 4.5)))
ax_rsi.axhline(30, color='#787B86', lw=1.5, ls=(0, (5.5, 4.5)))
ax_rsi.axhline(50, color='#787B86', lw=1.5, ls=(0, (5.5, 4.5)), alpha=0.5)
ax_rsi.plot(rsi_t, rsi_v, color=PURPLE, lw=1.7, solid_joinstyle='round')
ax_rsi.plot(signal_t, signal_v, color=YELLOW, lw=1.5, solid_joinstyle='round')
ax_rsi.yaxis.tick_right()
ax_rsi.set_yticks(rsi_ticks)
ax_rsi.set_yticklabels([f'{v:.2f}' for v in rsi_ticks])

# time axis strip
ax_time = pane(1451, 1506)
ax_time.set_ylim(0, 1)
ax_time.set_yticks([])
for i, year in enumerate(year_labels):
    ax_time.text(i + 1, 0.46, str(year), ha='center', va='center', fontsize=19, fontweight='bold', color=INK)

# page furniture drawn in pixel coordinates
ov = fig.add_axes([0, 0, 1, 1], zorder=10)
ov.set_xlim(0, W)
ov.set_ylim(H, 0)
ov.axis('off')

ov.add_patch(Rectangle((20, 53), 2814, 1453, fill=False, ec='#F0F1F6', lw=2.2))
for y in (1101, 1383):
    ov.plot([20, 2834], [y, y], color=EDGE, lw=2.2)
ov.plot([20, 162], [1451, 1451], color=EDGE, lw=2.2)
ov.plot([164, 2662], [1451, 1451], color=EDGE, lw=2.2)
ov.plot([2664, 2834], [1451, 1451], color=EDGE, lw=2.2)


def txt(x, y, s, color=INK, **kw):
    kw.setdefault('fontsize', 17)
    ov.text(x, y, s, color=color, va='center_baseline', **kw)


def button(x0, y0, x1, y1, label, tx):
    ov.add_patch(FancyBboxPatch((x0 + 10, y0 + 10), x1 - x0 - 20, y1 - y0 - 20, boxstyle='round,pad=10,rounding_size=14',
                                fc='white', ec='#EBECF2', lw=1.5))
    txt(tx, (y0 + y1) / 2, label)


def tag(x0, y0, x1, y1, face):
    ov.add_patch(FancyBboxPatch((x0 + 3, y0 + 3), x1 - x0 - 6, y1 - y0 - 6, boxstyle='round,pad=3,rounding_size=3',
                                fc=face, ec='none'))


txt(20, 32, 'Jay1104 published on TradingView.com, Nov 17, 2024 08:19 UTC-5')
button(29, 62, 156, 114, 'KRW', 46)
button(2670, 62, 2826, 114, 'USD', 2689)
txt(58, 123, "'", fontsize=8)

txt(181, 85, 'US Small Cap 2000 Index, 1D, TVC')
txt(583, 85, '2,303.8351')
txt(725, 85, '−33.1037')
txt(838, 85, '(−1.42%)')
txt(181, 119, 'KOSPI · KRX')
txt(331, 119, '2,416.86', PINK)
txt(441, 119, '−2.00', PINK)
txt(517, 119, '(−0.08%)', PINK)

tag(31, 555, 162, 586, PINK)
txt(40, 570.5, '2,416.86', 'white', fontsize=18)
tag(2664, 221, 2826, 255, 'black')
txt(2681, 237, '2,303.8351', 'white', fontsize=18)
tag(2664, 1191, 2758, 1226, YELLOW)
txt(2681, 1208, '59.71', 'black')
tag(2664, 1225, 2758, 1259, PURPLE)
txt(2681, 1242, '52.06', 'white')

txt(181, 1134, 'RSI (14, close, SMA, 14, 2)', fontsize=17.3)
txt(490, 1134, '52.06', PURPLE)
txt(570, 1134, '59.71', YELLOW)
txt(644, 1134, '∅', fontsize=15)
txt(675, 1134, '∅', fontsize=15)

txt(181, 1416, 'MACD (20, 120, close)', fontsize=17.2)
txt(446, 1416, '12.8241', '#B2DFDB')
txt(547, 1416, '125.9638', '#2962FF')
txt(667, 1416, '113.1397', '#FF6D00')

ov.add_patch(Circle((93, 1479), 19, fc='#F0F3FA', ec='none'))
ov.text(93, 1479, 'Z', ha='center', va='center', color='#50535E', fontsize=14)
ov.add_patch(Circle((2749, 1479), 19, fc='#F0F3FA', ec='none'))
ov.text(2749, 1479, 'A', ha='center', va='center', color='#50535E', fontsize=14)

# tradingview mark
ov.add_patch(Polygon([(20, 1530), (38, 1530), (38, 1550), (29, 1550), (29, 1538), (20, 1538)], fc=INK, ec='none'))
ov.add_patch(Circle((44, 1534), 4, fc=INK, ec='none'))
ov.add_patch(Polygon([(50, 1530), (59, 1530), (50, 1550), (41, 1550)], fc=INK, ec='none'))
txt(68, 1542, 'TradingView', fontsize=18)

fig.savefig('out.png', dpi=100)
